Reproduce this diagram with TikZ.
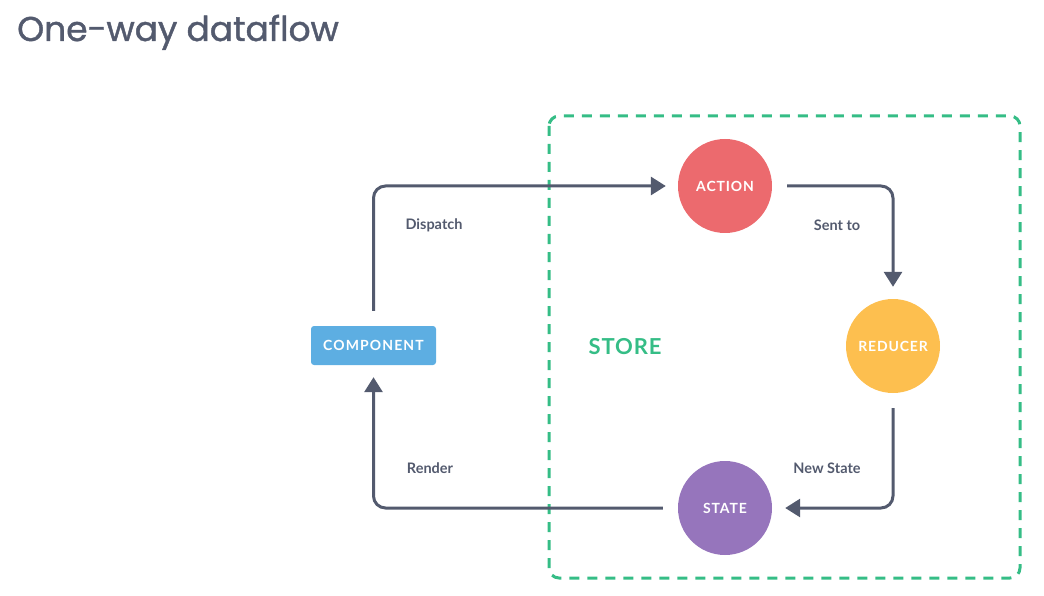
\documentclass[tikz,border=0pt]{standalone}
\usepackage{fontspec}
\setmainfont{Lato}
\newfontfamily\titlefont[FakeBold=1.2]{Poppins}
\usetikzlibrary{arrows.meta}
\definecolor{ink}{HTML}{535A6E}
\definecolor{storegreen}{HTML}{35BD86}
\definecolor{actionred}{HTML}{EC6A6E}
\definecolor{reduceryellow}{HTML}{FDBF4F}
\definecolor{statepurple}{HTML}{9675BC}
\definecolor{compblue}{HTML}{5DAEE2}

\begin{document}
\begin{tikzpicture}[x=1pt,y=-1pt,>={Triangle[width=18pt,length=15pt]},
	flow/.style={->,ink,line width=3pt,rounded corners=12pt},
	ball/.style={circle,minimum size=94pt,inner sep=0pt,text=white,
		font=\bfseries\fontsize{14}{14}\selectfont\addfontfeatures{LetterSpace=6}},
	lab/.style={ink,font=\bfseries\fontsize{14.5}{15}\selectfont}]
	\useasboundingbox (0,0) rectangle (1044,596);
	\node[anchor=base west,ink,font=\titlefont\fontsize{34.4}{38}\selectfont,inner sep=0pt] (title) at (17,41) {One-way dataflow};
	% store
	\draw[storegreen,line width=3pt,dash pattern=on 10pt off 8pt,rounded corners=10pt] (549,116) rectangle (1020,578);
	\node[storegreen,font=\bfseries\fontsize{22}{22}\selectfont\addfontfeatures{LetterSpace=4}] (store) at (625,347) {STORE};
	% nodes
	\node[ball,fill=actionred] (action) at (725,186) {ACTION};
	\node[ball,fill=reduceryellow] (reducer) at (893,346) {REDUCER};
	\node[ball,fill=statepurple] (state) at (725,508) {STATE};
	\node[fill=compblue,rounded corners=3pt,minimum width=125pt,minimum height=39pt,text=white,
		font=\bfseries\fontsize{14}{14}\selectfont\addfontfeatures{LetterSpace=8}] (comp) at (373.5,345.5) {COMPONENT};
	% arrows
	\draw[flow,shorten <=15pt,shorten >=12pt] (comp.north) |- (action.west);
	\draw[flow,shorten <=15pt,shorten >=12pt] (action.east) -| (reducer.north);
	\draw[flow,shorten <=15pt,shorten >=13pt] (reducer.south) |- (state.east);
	\draw[flow,shorten <=15pt,shorten >=12pt] (state.west) -| (comp.south);
	% labels
	\node[lab] (dispatch) at (434,225) {Dispatch};
	\node[lab] (sentto) at (837,225) {Sent to};
	\node[lab] (newstate) at (827,468) {New State};
	\node[lab] (render) at (430,468) {Render};
\end{tikzpicture}
\end{document}
